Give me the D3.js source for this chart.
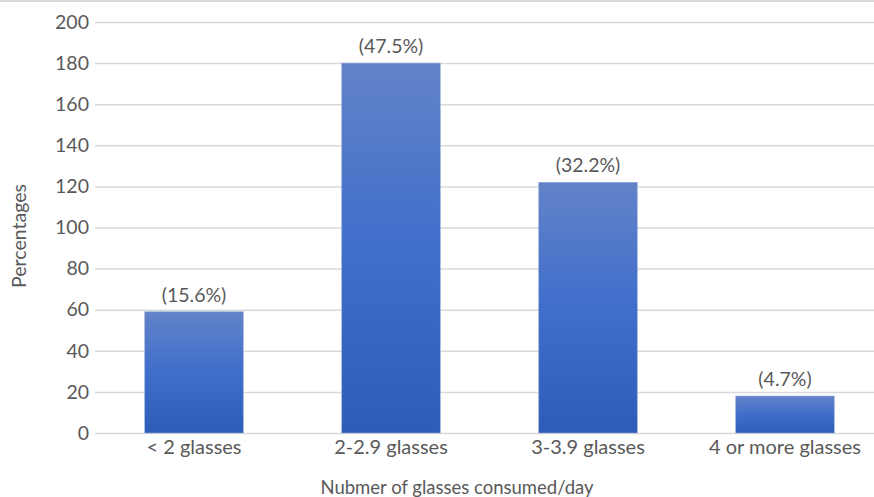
<!DOCTYPE html>
<html><head><meta charset="utf-8">
<script src="https://cdn.jsdelivr.net/npm/d3@7"></script>
<style>body{margin:0;background:#fff;overflow:hidden}svg{display:block}text{font-family:Lato,"Open Sans",sans-serif;fill:#595959}</style>
</head><body>
<script>
const categories = ["< 2 glasses", "2-2.9 glasses", "3-3.9 glasses", "4 or more glasses"];
const values = [59, 180, 122, 18];
const labels = ["(15.6%)", "(47.5%)", "(32.2%)", "(4.7%)"];
const yTicks = [0, 20, 40, 60, 80, 100, 120, 140, 160, 180, 200];
const xTitle = "Nubmer of glasses consumed/day";
const yTitle = "Percentages";

const W = 874, H = 497;
const svg = d3.select("body").append("svg").attr("width", W).attr("height", H);
const defs = svg.append("defs");
const g = defs.append("linearGradient").attr("id","bg").attr("x1",0).attr("y1",0).attr("x2",0).attr("y2",1);
g.append("stop").attr("offset","0%").attr("stop-color","#6383c8");
g.append("stop").attr("offset","50%").attr("stop-color","#3f6ecb");
g.append("stop").attr("offset","100%").attr("stop-color","#2d5cb8");

svg.append("rect").attr("x",0).attr("y",0).attr("width",W).attr("height",2).attr("fill","#d9d9d9");

const x = d3.scaleBand().domain(categories).range([95.5, 883.5]).paddingInner(0.5).paddingOuter(0.25);
const y = d3.scaleLinear().domain([0, 200]).range([433, 22]);

const yAxis = svg.append("g").attr("transform","translate(95,0)")
  .call(d3.axisLeft(y).tickValues(yTicks).tickSize(-(W-95)).tickPadding(6));
yAxis.select(".domain").remove();
yAxis.selectAll(".tick line").attr("stroke","#d9d9d9").attr("stroke-width",1.5);
yAxis.selectAll(".tick text").attr("font-size",19.5).attr("fill","#595959").attr("x",-6);

svg.selectAll("rect.bar").data(values).enter().append("rect").attr("class","bar")
  .attr("x",(d,i)=>x(categories[i])).attr("width",x.bandwidth())
  .attr("y",d=>y(d)).attr("height",d=>y(0)-y(d))
  .attr("fill","url(#bg)").attr("stroke","#8fa6d8").attr("stroke-width",0.6);

svg.selectAll("text.lbl").data(values).enter().append("text").attr("class","lbl")
  .attr("x",(d,i)=>x(categories[i])+x.bandwidth()/2).attr("y",d=>y(d)-10)
  .attr("text-anchor","middle").attr("font-size",19.5).attr("fill","#404040")
  .text((d,i)=>labels[i]);

const xAxis = svg.append("g").attr("transform","translate(0,433)")
  .call(d3.axisBottom(x).tickSize(0).tickPadding(7));
xAxis.select(".domain").remove();
xAxis.selectAll(".tick text").attr("font-size",20).attr("fill","#595959");

svg.append("text").attr("x",457).attr("y",494).attr("text-anchor","middle").attr("font-size",18.5).text(xTitle);
svg.append("text").attr("transform","translate(26,236) rotate(-90)").attr("text-anchor","middle").attr("font-size",19.5).text(yTitle);
</script>
</body></html>
